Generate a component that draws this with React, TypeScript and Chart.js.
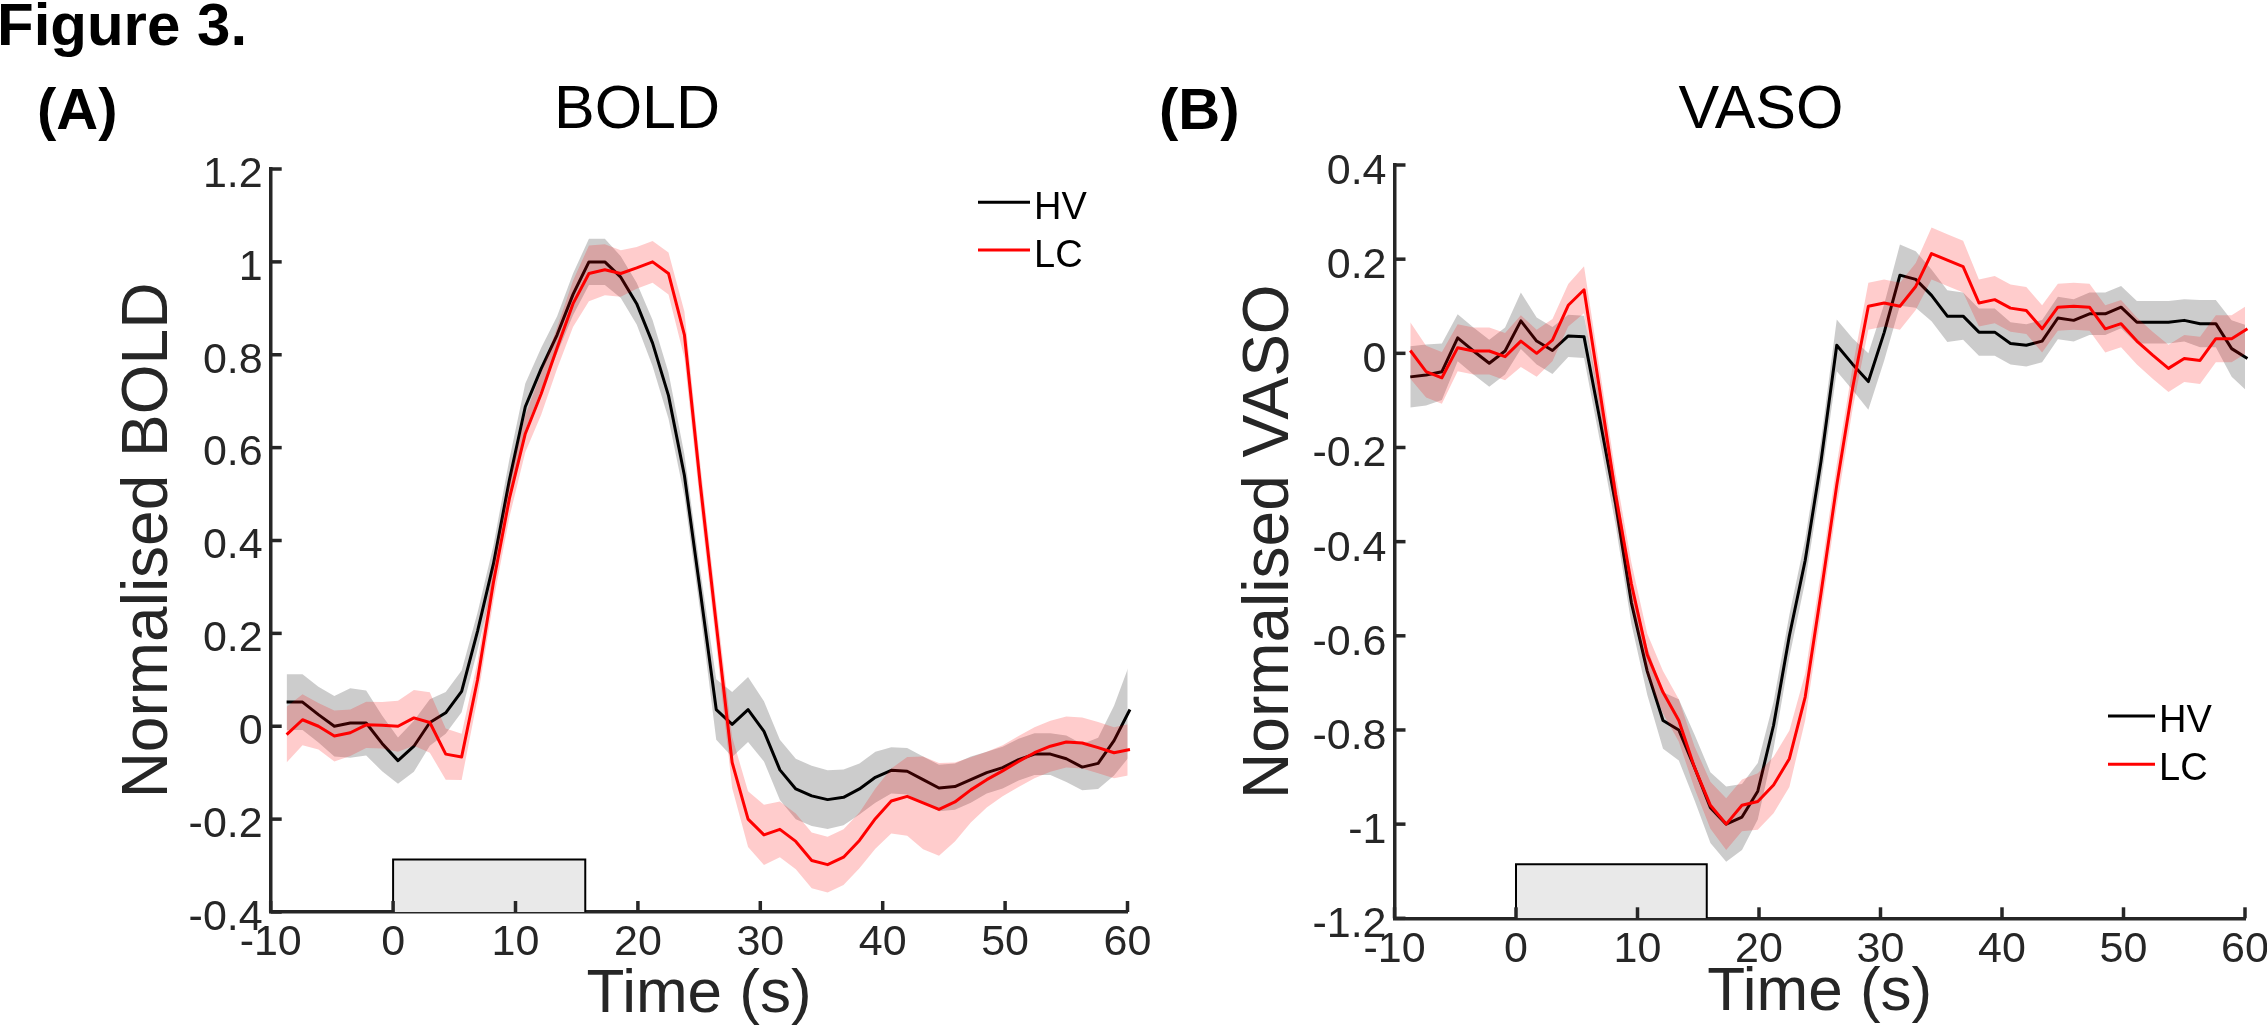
import React, { useEffect, useRef } from "react";
import { Chart, registerables } from "chart.js";

Chart.register(...registerables);

// ---------------- data ----------------
const TIME = [
  -8.7, -7.4, -6.1, -4.8, -3.5, -2.2, -0.9, 0.4, 1.7, 3.0, 4.3, 5.6, 6.9, 8.2, 9.5, 10.8, 12.1, 13.4,
  14.7, 16.0, 17.3, 18.6, 19.9, 21.2, 22.5, 23.8, 25.1, 26.4, 27.7, 29.0, 30.3, 31.6, 32.9, 34.2, 35.5, 36.8,
  38.1, 39.4, 40.7, 42.0, 43.3, 44.6, 45.9, 47.2, 48.5, 49.8, 51.1, 52.4, 53.7, 55.0, 56.3, 57.6, 58.9, 60.2,
];

const BOLD_HV = [
  0.052, 0.052, 0.025, 0.0, 0.007, 0.007, -0.037, -0.074, -0.043, 0.008, 0.029, 0.075, 0.205, 0.35, 0.53, 0.688, 0.77, 0.843,
  0.93, 1.0, 1.0, 0.967, 0.91, 0.825, 0.712, 0.54, 0.29, 0.036, 0.004, 0.036, -0.011, -0.094, -0.135, -0.15, -0.158, -0.153,
  -0.135, -0.11, -0.095, -0.097, -0.115, -0.133, -0.13, -0.115, -0.1, -0.089, -0.072, -0.06, -0.06, -0.07, -0.088, -0.08, -0.031, 0.036,
];
const BOLD_HV_SEM = [
  0.06, 0.06, 0.06, 0.065, 0.075, 0.07, 0.06, 0.05, 0.055, 0.05, 0.045, 0.045, 0.04, 0.04, 0.045, 0.05, 0.045, 0.04,
  0.045, 0.05, 0.05, 0.045, 0.045, 0.05, 0.05, 0.045, 0.045, 0.065, 0.07, 0.07, 0.065, 0.065, 0.065, 0.065, 0.063, 0.06,
  0.055, 0.055, 0.05, 0.05, 0.05, 0.05, 0.05, 0.05, 0.045, 0.045, 0.045, 0.045, 0.045, 0.05, 0.05, 0.055, 0.075, 0.1,
];
const BOLD_LC = [
  -0.018, 0.014, 0.0, -0.021, -0.014, 0.003, 0.002, 0.0, 0.018, 0.008, -0.06, -0.066, 0.1, 0.31, 0.49, 0.63, 0.716, 0.815,
  0.91, 0.975, 0.983, 0.975, 0.987, 1.0, 0.975, 0.843, 0.52, 0.22, -0.078, -0.2, -0.234, -0.222, -0.248, -0.289, -0.298, -0.282,
  -0.246, -0.199, -0.161, -0.151, -0.165, -0.179, -0.163, -0.137, -0.115, -0.096, -0.076, -0.057, -0.043, -0.034, -0.036, -0.046, -0.057, -0.05,
];
const BOLD_LC_SEM = [
  0.06, 0.055, 0.05, 0.055, 0.05, 0.05, 0.05, 0.055, 0.06, 0.065, 0.055, 0.05, 0.04, 0.04, 0.04, 0.04, 0.045, 0.045,
  0.05, 0.06, 0.055, 0.05, 0.045, 0.045, 0.045, 0.05, 0.045, 0.045, 0.055, 0.06, 0.065, 0.06, 0.06, 0.06, 0.06, 0.06,
  0.06, 0.065, 0.07, 0.085, 0.1, 0.1, 0.085, 0.07, 0.06, 0.055, 0.055, 0.055, 0.055, 0.055, 0.055, 0.055, 0.055, 0.055,
];

const VASO_HV = [
  -0.05, -0.046, -0.039, 0.033, 0.005, -0.021, 0.005, 0.069, 0.026, 0.006, 0.037, 0.035, -0.14, -0.32, -0.53, -0.675, -0.78, -0.8,
  -0.88, -0.965, -1.0, -0.985, -0.93, -0.79, -0.6, -0.44, -0.23, 0.017, -0.023, -0.06, 0.044, 0.166, 0.157, 0.123, 0.079, 0.079,
  0.045, 0.045, 0.021, 0.017, 0.026, 0.075, 0.07, 0.084, 0.084, 0.098, 0.066, 0.066, 0.066, 0.07, 0.063, 0.063, 0.01, -0.011,
];
const VASO_HV_SEM = [
  0.065, 0.065, 0.06, 0.05, 0.05, 0.05, 0.05, 0.06, 0.05, 0.05, 0.045, 0.045, 0.045, 0.045, 0.045, 0.05, 0.06, 0.065,
  0.07, 0.075, 0.08, 0.07, 0.06, 0.05, 0.045, 0.045, 0.045, 0.055, 0.055, 0.06, 0.06, 0.065, 0.06, 0.055, 0.055, 0.05,
  0.05, 0.05, 0.045, 0.045, 0.045, 0.045, 0.045, 0.045, 0.045, 0.045, 0.045, 0.045, 0.045, 0.045, 0.05, 0.05, 0.06, 0.07,
];
const VASO_LC = [
  0.006, -0.039, -0.052, 0.012, 0.005, 0.005, -0.007, 0.026, 0.0, 0.028, 0.102, 0.135, -0.08, -0.3, -0.49, -0.64, -0.72, -0.78,
  -0.88, -0.96, -1.0, -0.96, -0.952, -0.917, -0.861, -0.73, -0.51, -0.28, -0.074, 0.1, 0.107, 0.1, 0.142, 0.212, 0.198, 0.184,
  0.107, 0.114, 0.096, 0.091, 0.052, 0.098, 0.1, 0.098, 0.052, 0.063, 0.026, -0.004, -0.032, -0.011, -0.015, 0.031, 0.031, 0.052,
];
const VASO_LC_SEM = [
  0.06, 0.055, 0.055, 0.05, 0.05, 0.05, 0.05, 0.055, 0.05, 0.045, 0.045, 0.05, 0.045, 0.045, 0.045, 0.045, 0.045, 0.045,
  0.045, 0.05, 0.055, 0.055, 0.06, 0.06, 0.06, 0.05, 0.045, 0.045, 0.045, 0.05, 0.05, 0.05, 0.05, 0.055, 0.055, 0.055,
  0.05, 0.05, 0.05, 0.05, 0.05, 0.05, 0.05, 0.05, 0.05, 0.05, 0.05, 0.05, 0.05, 0.05, 0.05, 0.05, 0.05, 0.05,
];

const SERIES_NAMES = ["HV", "LC"];
const X_RANGE = [-10, 60];
const X_STEP = 10;
const BOLD_Y_RANGE = [-0.4, 1.2];
const VASO_Y_RANGE = [-1.2, 0.4];
const Y_STEP = 0.2;
const STIM_ON = 0;
const STIM_OFF = 15.7;
const BOLD_STIM_TOP = -0.287;
const VASO_STIM_TOP = -1.085;

// ---------------- style ----------------
const FAMILY = '"Liberation Sans", Arial, Helvetica, sans-serif';
const AXIS = "#262626";
const BLACK = "#000000";
const RED = "#ff0000";
const GRAY_BAND = "rgba(0,0,0,0.2)";
const RED_BAND = "rgba(255,0,0,0.2)";
const STIM_FILL = "#e9e9e9";
const LINE_W = 3;
const AXIS_W = 3.5;
const TICK_LEN = 11;

type PanelCfg = {
  left: number;
  width: number;
  top: number;
  right: number;
  yAxisW: number;
  xAxisH: number;
  yRange: number[];
  stimTop: number;
  hv: number[];
  hvSem: number[];
  lc: number[];
  lcSem: number[];
  yTitle: string;
  yTitlePad: number;
  xTitlePad: number;
  xTickPad: number;
  yLabelOffset: number;
  title: string;
  titleX: number;
  panelLabel: string;
  panelLabelX: number;
  figureLabel: boolean;
  legendX1: number;
  legendX2: number;
  legendTextX: number;
  legendY: number[];
  legendBase: number[];
};

const PANELS: PanelCfg[] = [
  {
    left: 0, width: 1150, top: 169, right: 22.5, yAxisW: 270.7, xAxisH: 118,
    yRange: BOLD_Y_RANGE, stimTop: BOLD_STIM_TOP,
    hv: BOLD_HV, hvSem: BOLD_HV_SEM, lc: BOLD_LC, lcSem: BOLD_LC_SEM,
    yTitle: "Normalised BOLD", yTitlePad: 111, xTitlePad: 0, xTickPad: 5, yLabelOffset: 6,
    title: "BOLD", titleX: 637, panelLabel: "(A)", panelLabelX: 37, figureLabel: true,
    legendX1: 978, legendX2: 1030, legendTextX: 1034, legendY: [202.3, 250], legendBase: [219.3, 267],
  },
  {
    left: 1150, width: 1117, top: 165, right: 22, yAxisW: 244.5, xAxisH: 111.7,
    yRange: VASO_Y_RANGE, stimTop: VASO_STIM_TOP,
    hv: VASO_HV, hvSem: VASO_HV_SEM, lc: VASO_LC, lcSem: VASO_LC_SEM,
    yTitle: "Normalised VASO", yTitlePad: 82, xTitlePad: 2, xTickPad: 6, yLabelOffset: 7,
    title: "VASO", titleX: 611, panelLabel: "(B)", panelLabelX: 9, figureLabel: false,
    legendX1: 958, legendX2: 1005, legendTextX: 1009, legendY: [716, 764.3], legendBase: [731.7, 780],
  },
];

function fmt(v: number) {
  const r = Math.round(Number(v) * 10) / 10;
  return (Object.is(r, -0) ? 0 : r).toString();
}

function buildConfig(p: PanelCfg): any {
  const pts = (vals: number[]) => TIME.map((t, i) => ({ x: t, y: vals[i] }));
  const band = (m: number[], s: number[], sign: number) => TIME.map((t, i) => ({ x: t, y: m[i] + sign * s[i] }));
  const common = { pointRadius: 0, pointHoverRadius: 0, tension: 0, clip: false, borderJoinStyle: "round" };

  const datasets = [
    { label: SERIES_NAMES[1], data: pts(p.lc), borderColor: RED, borderWidth: LINE_W, fill: false, order: 1, ...common },
    { label: "LC upper", data: band(p.lc, p.lcSem, 1), borderColor: "rgba(0,0,0,0)", borderWidth: 0, fill: false, order: 2, ...common },
    { label: "LC lower", data: band(p.lc, p.lcSem, -1), borderColor: "rgba(0,0,0,0)", borderWidth: 0, backgroundColor: RED_BAND, fill: 1, order: 2, ...common },
    { label: SERIES_NAMES[0], data: pts(p.hv), borderColor: BLACK, borderWidth: LINE_W, fill: false, order: 3, ...common },
    { label: "HV upper", data: band(p.hv, p.hvSem, 1), borderColor: "rgba(0,0,0,0)", borderWidth: 0, fill: false, order: 4, ...common },
    { label: "HV lower", data: band(p.hv, p.hvSem, -1), borderColor: "rgba(0,0,0,0)", borderWidth: 0, backgroundColor: GRAY_BAND, fill: 4, order: 4, ...common },
    {
      label: "Stimulus",
      data: [
        { x: STIM_ON, y: p.yRange[0] },
        { x: STIM_ON, y: p.stimTop },
        { x: STIM_OFF, y: p.stimTop },
        { x: STIM_OFF, y: p.yRange[0] },
      ],
      borderColor: BLACK, borderWidth: 2, backgroundColor: STIM_FILL, fill: "start", order: 5,
      pointRadius: 0, tension: 0, borderJoinStyle: "miter",
    },
  ];

  const decor = {
    id: "decor" + p.panelLabel,
    afterDraw(chart: any) {
      const { ctx, chartArea } = chart;
      const xs = chart.scales.x;
      const ys = chart.scales.y;
      ctx.save();
      // inward ticks
      ctx.strokeStyle = AXIS;
      ctx.lineWidth = AXIS_W;
      ctx.lineCap = "butt";
      xs.ticks.forEach((t: any) => {
        const px = xs.getPixelForValue(t.value);
        ctx.beginPath();
        ctx.moveTo(px, chartArea.bottom);
        ctx.lineTo(px, chartArea.bottom - TICK_LEN);
        ctx.stroke();
      });
      ys.ticks.forEach((t: any) => {
        const py = ys.getPixelForValue(t.value);
        ctx.beginPath();
        ctx.moveTo(chartArea.left, py);
        ctx.lineTo(chartArea.left + TICK_LEN, py);
        ctx.stroke();
      });
      // texts
      ctx.fillStyle = BLACK;
      ctx.textBaseline = "alphabetic";
      if (p.figureLabel) {
        ctx.textAlign = "left";
        ctx.font = `bold 60px ${FAMILY}`;
        ctx.fillText("Figure 3.", -3, 45);
      }
      ctx.textAlign = "left";
      ctx.font = `bold 58px ${FAMILY}`;
      ctx.fillText(p.panelLabel, p.panelLabelX, 129);
      ctx.textAlign = "center";
      ctx.font = `61px ${FAMILY}`;
      ctx.fillText(p.title, p.titleX, 128);
      // legend
      const colors = [BLACK, RED];
      ctx.textAlign = "left";
      ctx.font = `38px ${FAMILY}`;
      for (let k = 0; k < 2; k++) {
        ctx.strokeStyle = colors[k];
        ctx.lineWidth = LINE_W;
        ctx.beginPath();
        ctx.moveTo(p.legendX1, p.legendY[k]);
        ctx.lineTo(p.legendX2, p.legendY[k]);
        ctx.stroke();
        ctx.fillStyle = BLACK;
        ctx.fillText(SERIES_NAMES[k], p.legendTextX, p.legendBase[k]);
      }
      ctx.restore();
    },
  };

  return {
    type: "line",
    data: { datasets },
    plugins: [decor],
    options: {
      responsive: false,
      maintainAspectRatio: false,
      animation: false,
      devicePixelRatio: 1,
      events: [],
      layout: { padding: { left: 0, top: p.top, right: p.right, bottom: 0 } },
      plugins: {
        legend: { display: false },
        tooltip: { enabled: false },
        title: { display: false },
        filler: { propagate: false },
      },
      scales: {
        x: {
          type: "linear",
          min: X_RANGE[0],
          max: X_RANGE[1],
          z: 1,
          grid: { display: false, drawTicks: false },
          border: { display: true, color: AXIS, width: AXIS_W },
          ticks: {
            stepSize: X_STEP,
            autoSkip: false,
            maxRotation: 0,
            padding: p.xTickPad,
            color: AXIS,
            font: { family: FAMILY, size: 43 },
            callback: (v: any) => fmt(v),
          },
          title: {
            display: true,
            text: "Time (s)",
            color: AXIS,
            font: { family: FAMILY, size: 62, lineHeight: 1.12 },
            padding: { top: 0, bottom: p.xTitlePad },
          },
          afterFit: (s: any) => {
            s.height = p.xAxisH;
            s.paddingLeft = 0;
            s.paddingRight = 0;
          },
        },
        y: {
          type: "linear",
          min: p.yRange[0],
          max: p.yRange[1],
          z: 1,
          grid: { display: false, drawTicks: false },
          border: { display: true, color: AXIS, width: AXIS_W },
          ticks: {
            stepSize: Y_STEP,
            autoSkip: false,
            padding: 8,
            labelOffset: p.yLabelOffset,
            color: AXIS,
            font: { family: FAMILY, size: 43 },
            callback: (v: any) => fmt(v),
          },
          title: {
            display: true,
            text: p.yTitle,
            color: AXIS,
            font: { family: FAMILY, size: 64, lineHeight: 1.2 },
            padding: { top: p.yTitlePad, bottom: 0 },
          },
          afterFit: (s: any) => {
            s.width = p.yAxisW;
            s.paddingTop = 0;
            s.paddingBottom = 0;
          },
        },
      },
    },
  };
}

function Panel({ p }: { p: PanelCfg }) {
  const ref = useRef<HTMLCanvasElement | null>(null);
  useEffect(() => {
    if (!ref.current) return;
    const chart = new Chart(ref.current, buildConfig(p));
    return () => chart.destroy();
  }, [p]);
  return (
    <canvas
      ref={ref}
      width={p.width}
      height={1030}
      style={{ position: "absolute", left: p.left, top: 0, width: p.width, height: 1030 }}
    />
  );
}

export default function App() {
  return (
    <div
      style={{
        position: "absolute",
        left: 0,
        top: 0,
        width: 2267,
        height: 1030,
        background: "#ffffff",
        overflow: "hidden",
      }}
    >
      {PANELS.map((p) => (
        <Panel key={p.panelLabel} p={p} />
      ))}
    </div>
  );
}
